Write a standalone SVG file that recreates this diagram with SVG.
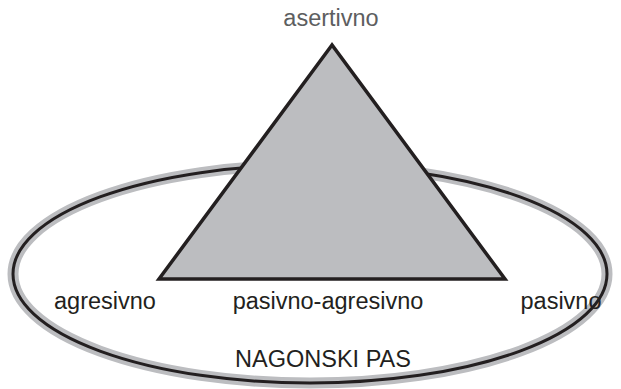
<svg xmlns="http://www.w3.org/2000/svg" width="621" height="389" viewBox="0 0 621 389">
<style>
text{font-family:"Liberation Sans",Arial,sans-serif;font-size:23.5px;fill:#231f20;text-anchor:middle}
.grey{fill:#5d5e60}
</style>
<rect width="621" height="389" fill="#fff"/>
<g id="ellipse">
<ellipse cx="310" cy="274" rx="297" ry="109" fill="none" stroke="#bcbdc0" stroke-width="11"/>
<ellipse cx="310" cy="274" rx="297" ry="109" fill="none" stroke="#231f20" stroke-width="3"/>
</g>
<g id="triangle">
<polygon points="332,45 159,279 505,279" fill="#bcbdc0" stroke="#231f20" stroke-width="3.5" stroke-linejoin="miter"/>
</g>
<g id="labels">
<text class="grey" x="331" y="26">asertivno</text>
<text x="105" y="309">agresivno</text>
<text x="328" y="309">pasivno-agresivno</text>
<text x="561" y="309">pasivno</text>
<text x="323" y="367">NAGONSKI PAS</text>
</g>
</svg>
